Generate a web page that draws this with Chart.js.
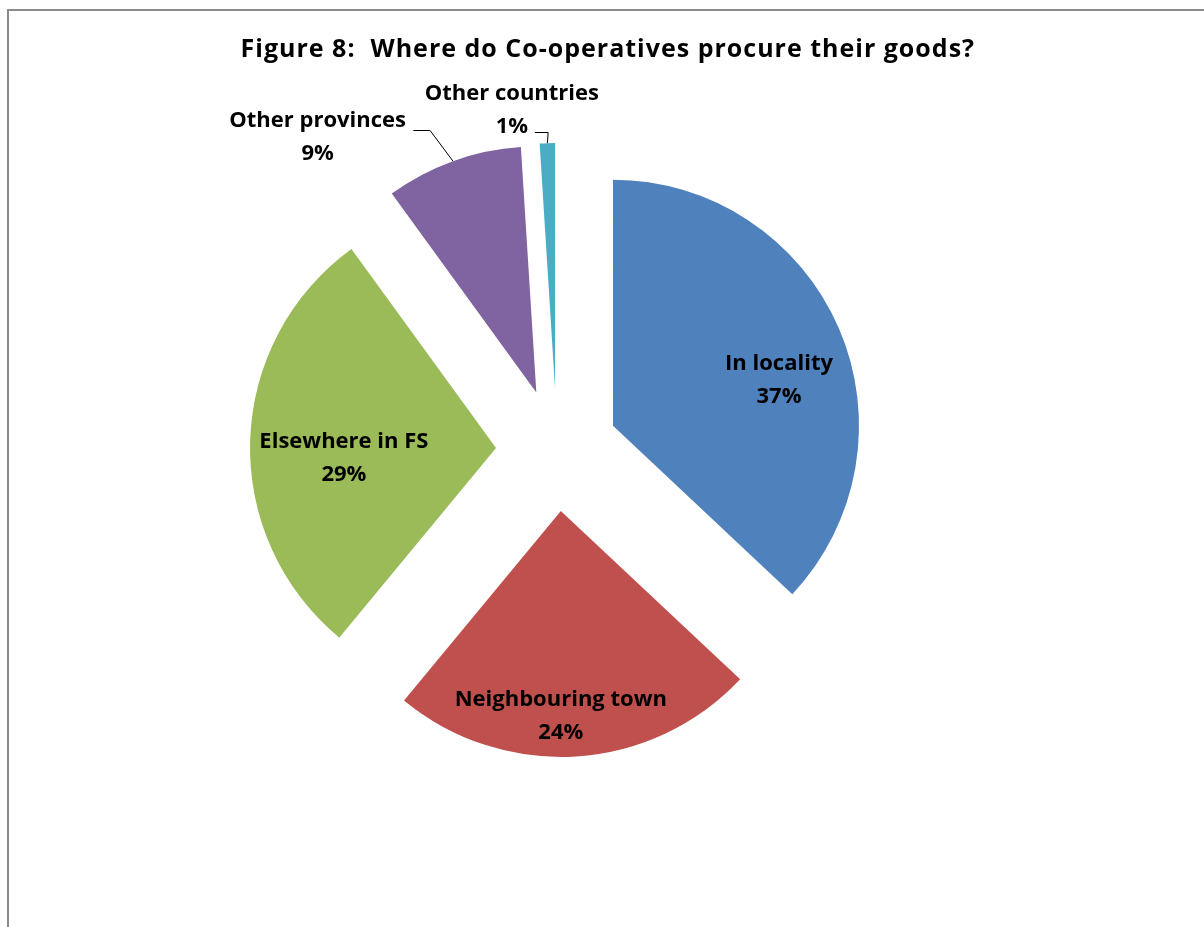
<!DOCTYPE html>
<html>
<head>
<meta charset="utf-8">
<title>Figure 8</title>
<script src="https://cdn.jsdelivr.net/npm/chart.js"></script>
<style>
  html, body { margin: 0; padding: 0; background: #fff; overflow: hidden; }
  #wrap { position: relative; width: 1204px; height: 927px; }
  #frame { position: absolute; left: 7px; top: 9px; width: 1300px; height: 1000px; border: 2px solid #8a8a8a; }
  canvas { position: absolute; left: 0; top: 0; }
</style>
</head>
<body>
<div id="wrap">
  <div id="frame"></div>
  <canvas id="myChart" width="1204" height="927"></canvas>
</div>
<script>
const categories = ['In locality', 'Neighbouring town', 'Elsewhere in FS', 'Other provinces', 'Other countries'];
const shares = [37, 24, 29, 9, 1];
const colours = ['#4F81BD', '#C0504D', '#9BBB59', '#8064A2', '#4BACC6'];

const EXPLODE = 61;        // how far each slice is pulled out from the centre
const LINE_GAP = 33;       // distance between name and percent lines
const LABEL_FONT = 'bold 22px "Open Sans"';

// inside labels: fraction of radius along the bisector (turned a little)
// outside labels: text offset from the slice rim, plus the leader's start and elbow
const labelPlace = [
  { inside: true, r: 0.70, turn: 8 },
  { inside: true, r: 0.834, turn: 3.6 },
  { inside: true, r: 0.62, turn: -5.75 },
  { inside: false, dx: -135.4, dy: -23.7, leader: [[-39.6, -31.1], [-22.9, -31.1]] },
  { inside: false, dx: -35.5, dy: -33.1, leader: [[-12.5, -11.4], [0.8, -11.4]] }
];

// push every arc out along its own bisector
const explodePlugin = {
  id: 'explode',
  afterDatasetsUpdate(chart) {
    chart.getDatasetMeta(0).data.forEach(function (arc) {
      const mid = (arc.startAngle + arc.endAngle) / 2;
      arc.x += Math.cos(mid) * EXPLODE;
      arc.y += Math.sin(mid) * EXPLODE;
    });
  }
};

// the heading is set a touch looser than the slice labels
const titleSpacing = {
  id: 'titleSpacing',
  beforeDraw(chart) { chart.ctx.letterSpacing = '1px'; },
  beforeDatasetsDraw(chart) { chart.ctx.letterSpacing = '0px'; }
};

const labelPlugin = {
  id: 'sliceLabels',
  afterDatasetsDraw(chart) {
    const ctx = chart.ctx;
    const arcs = chart.getDatasetMeta(0).data;
    const total = shares.reduce((a, b) => a + b, 0);

    ctx.save();
    ctx.font = LABEL_FONT;
    ctx.fillStyle = '#000';
    ctx.strokeStyle = '#000';
    ctx.lineWidth = 1;
    ctx.textAlign = 'center';
    ctx.textBaseline = 'middle';

    arcs.forEach(function (arc, i) {
      const mid = (arc.startAngle + arc.endAngle) / 2;
      const R = arc.outerRadius;
      const place = labelPlace[i];
      const pct = Math.round(shares[i] / total * 100) + '%';
      let cx, cy;

      if (place.inside) {
        const a = mid + place.turn * Math.PI / 180;
        cx = arc.x + Math.cos(a) * R * place.r;
        cy = arc.y + Math.sin(a) * R * place.r;
      } else {
        const ox = arc.x + Math.cos(mid) * R;
        const oy = arc.y + Math.sin(mid) * R;
        cx = ox + place.dx;
        cy = oy + place.dy;
        const sy = Math.round(oy + place.leader[0][1]) + 0.5;
        ctx.beginPath();
        ctx.moveTo(ox + place.leader[0][0], sy);
        ctx.lineTo(ox + place.leader[1][0], sy);
        ctx.lineTo(ox, oy);
        ctx.stroke();
      }

      ctx.fillText(categories[i], cx, cy - LINE_GAP / 2);
      ctx.fillText(pct, cx, cy + LINE_GAP / 2);
    });
    ctx.restore();
  }
};

function draw(chart) {
  new Chart(chart, {
    type: 'pie',
    data: {
      labels: categories,
      datasets: [{
        data: shares,
        backgroundColor: colours,
        borderWidth: 0
      }]
    },
    options: {
      responsive: false,
      animation: false,
      events: [],
      layout: { padding: { left: 139, right: 229, top: 0, bottom: 231 } },
      plugins: {
        legend: { display: false },
        tooltip: { enabled: false },
        title: {
          display: true,
          text: 'Figure 8:  Where do Co-operatives procure their goods?',
          align: 'end',
          color: '#000',
          font: { family: '"Open Sans", sans-serif', size: 25, weight: 'bold', lineHeight: 1.2 },
          padding: { top: 35, bottom: 139 }
        }
      }
    },
    plugins: [explodePlugin, titleSpacing, labelPlugin]
  });
}

window.addEventListener('load', function () {
  draw(document.getElementById('myChart').getContext('2d'));
});
</script>
</body>
</html>
